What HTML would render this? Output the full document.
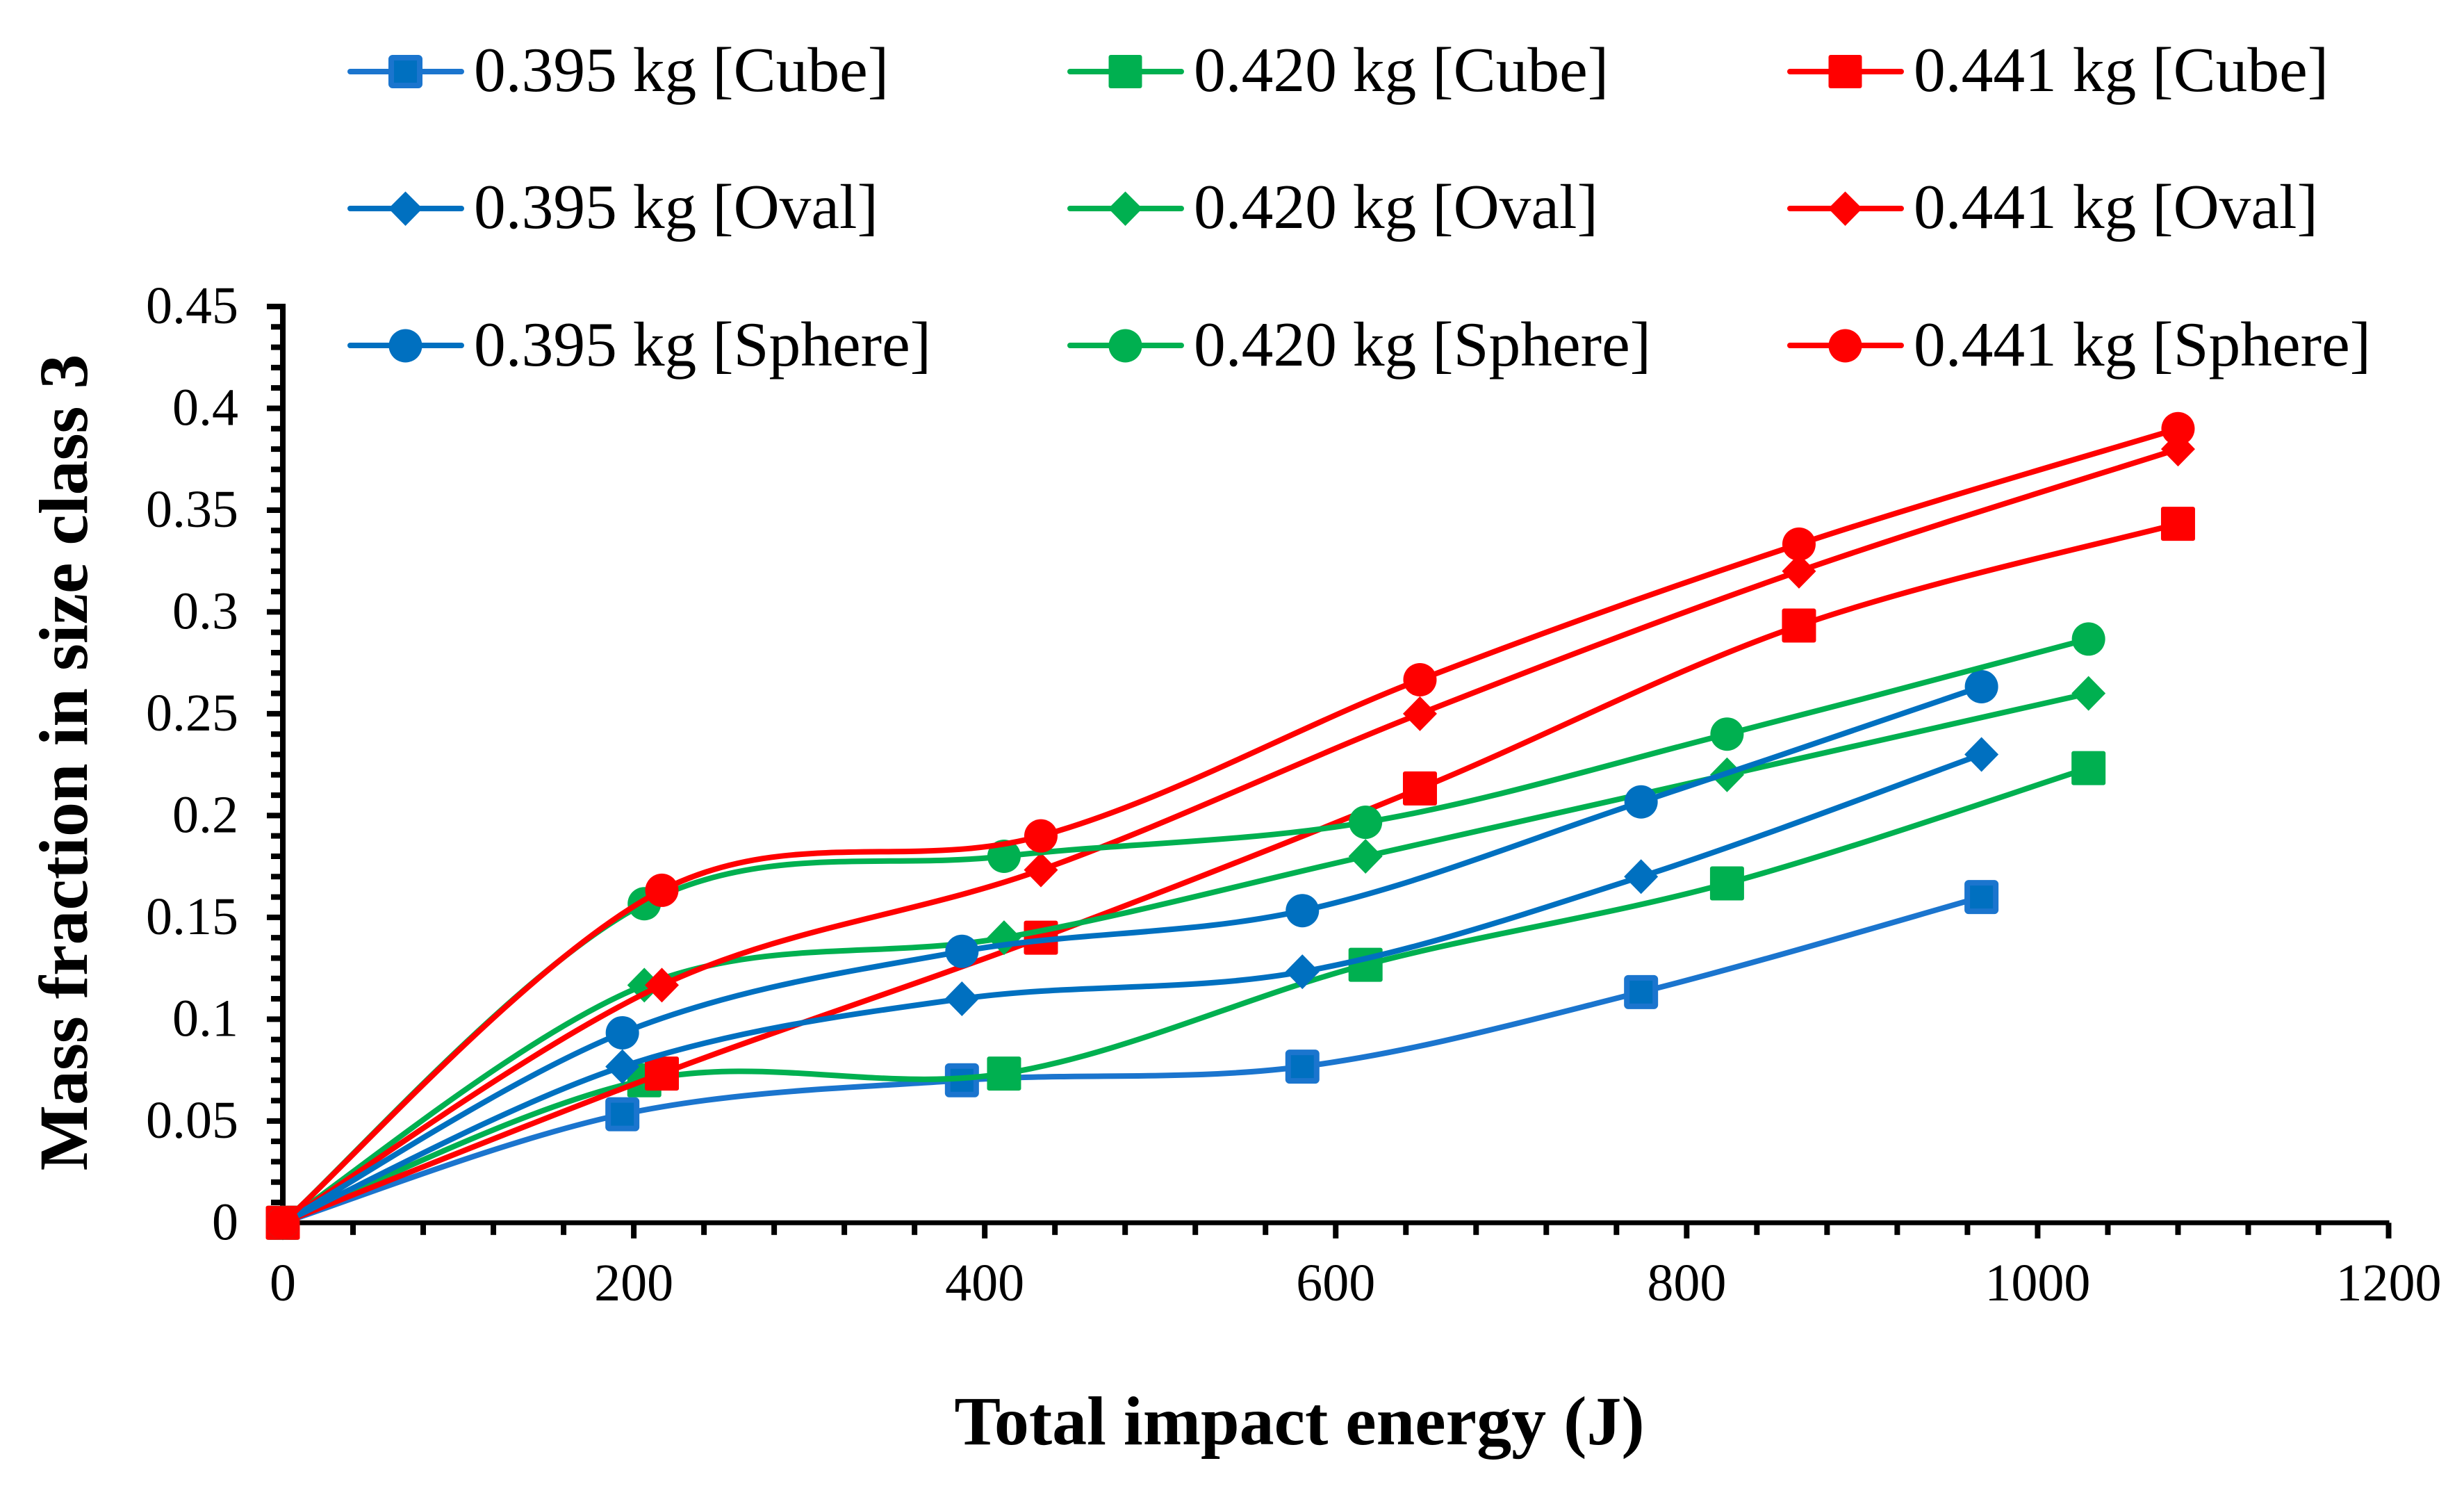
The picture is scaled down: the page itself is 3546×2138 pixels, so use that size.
<!DOCTYPE html>
<html lang="en">
<head>
<meta charset="utf-8">
<title>Mass fraction in size class 3 vs total impact energy</title>
<style>
html,body{margin:0;padding:0;background:#fff;}
svg{display:block;}
text{font-family:"Liberation Serif","Times New Roman",serif;fill:#000;}
.legend-text{font-size:91.5px;}
.tick-text{font-size:76px;}
.axis-title{font-size:100px;font-weight:bold;}
</style>
</head>
<body>
<svg id="chart" xmlns="http://www.w3.org/2000/svg" width="3546" height="2138" viewBox="0 0 3546 2138">
  <rect x="0" y="0" width="3546" height="2138" fill="#ffffff"/>
  <g id="axes"></g>
  <g id="series"></g>

  <text class="axis-title" x="1870" y="2078" text-anchor="middle">Total impact energy (J)</text>
  <text class="axis-title" x="0" y="0" text-anchor="middle" transform="translate(125 1097) rotate(-90)">Mass fraction in size class 3</text>

  <g>
    <g>
      <line x1="504" y1="103" x2="664" y2="103" stroke="#1B75CE" stroke-width="8" stroke-linecap="round"/>
      <rect x="563" y="83" width="41" height="40" rx="2" fill="#0070C0" stroke="#1B75CE" stroke-width="8"/>
      <text class="legend-text" x="682" y="131">0.395 kg [Cube]</text>
    </g>
    <g>
      <line x1="1540" y1="103" x2="1700" y2="103" stroke="#00B050" stroke-width="8" stroke-linecap="round"/>
      <rect x="1595.5" y="79" width="48" height="48" rx="3" fill="#00B050"/>
      <text class="legend-text" x="1718" y="131">0.420 kg [Cube]</text>
    </g>
    <g>
      <line x1="2576" y1="103" x2="2736" y2="103" stroke="#FF0000" stroke-width="8" stroke-linecap="round"/>
      <rect x="2631.5" y="79" width="48" height="48" rx="3" fill="#FF0000"/>
      <text class="legend-text" x="2754" y="131">0.441 kg [Cube]</text>
    </g>

    <g>
      <line x1="504" y1="300" x2="664" y2="300" stroke="#0070C0" stroke-width="8" stroke-linecap="round"/>
      <polygon points="583.5,275.5 608,300 583.5,325 559,300" fill="#0070C0"/>
      <text class="legend-text" x="682" y="328">0.395 kg [Oval]</text>
    </g>
    <g>
      <line x1="1540" y1="300" x2="1700" y2="300" stroke="#00B050" stroke-width="8" stroke-linecap="round"/>
      <polygon points="1619.5,275.5 1644,300 1619.5,325 1595,300" fill="#00B050"/>
      <text class="legend-text" x="1718" y="328">0.420 kg [Oval]</text>
    </g>
    <g>
      <line x1="2576" y1="300" x2="2736" y2="300" stroke="#FF0000" stroke-width="8" stroke-linecap="round"/>
      <polygon points="2655.5,275.5 2680,300 2655.5,325 2631,300" fill="#FF0000"/>
      <text class="legend-text" x="2754" y="328">0.441 kg [Oval]</text>
    </g>

    <g>
      <line x1="504" y1="497" x2="664" y2="497" stroke="#0070C0" stroke-width="8" stroke-linecap="round"/>
      <circle cx="583.5" cy="497.5" r="24" fill="#0070C0"/>
      <text class="legend-text" x="682" y="526">0.395 kg [Sphere]</text>
    </g>
    <g>
      <line x1="1540" y1="497" x2="1700" y2="497" stroke="#00B050" stroke-width="8" stroke-linecap="round"/>
      <circle cx="1619.5" cy="497.5" r="24" fill="#00B050"/>
      <text class="legend-text" x="1718" y="526">0.420 kg [Sphere]</text>
    </g>
    <g>
      <line x1="2576" y1="497" x2="2736" y2="497" stroke="#FF0000" stroke-width="8" stroke-linecap="round"/>
      <circle cx="2655.5" cy="497.5" r="24" fill="#FF0000"/>
      <text class="legend-text" x="2754" y="526">0.441 kg [Sphere]</text>
    </g>
  </g>
</svg>

<script>
// Impact energy (x) for each projectile mass
const energy395 = [0, 193.5, 387, 581, 774, 968];
const energy420 = [0, 206, 411, 617, 823, 1029];
const energy441 = [0, 216, 432, 648, 864, 1080];

// Mass fraction (y) for each series
const cube395 = [0, 0.0533, 0.07, 0.0767, 0.1133, 0.16];
const cube420 = [0, 0.07, 0.0733, 0.1267, 0.1667, 0.2233];
const cube441 = [0, 0.0733, 0.14, 0.2133, 0.2933, 0.3433];
const oval395 = [0, 0.0767, 0.11, 0.1233, 0.17, 0.23];
const oval420 = [0, 0.1167, 0.14, 0.18, 0.22, 0.26];
const oval441 = [0, 0.1167, 0.1733, 0.25, 0.32, 0.38];
const sphere395 = [0, 0.0933, 0.1333, 0.1533, 0.2067, 0.2633];
const sphere420 = [0, 0.1567, 0.18, 0.1967, 0.24, 0.2867];
const sphere441 = [0, 0.1633, 0.19, 0.2667, 0.3333, 0.39];

// Axis ticks
const xTickLabels = ['0', '200', '400', '600', '800', '1000', '1200'];
const yTickLabels = ['0', '0.05', '0.1', '0.15', '0.2', '0.25', '0.3', '0.35', '0.4', '0.45'];
const xMinorStep = 40;
const yMinorStep = 0.01;

const NS = 'http://www.w3.org/2000/svg';
const X0 = 407, X1 = 3437.5, XMAX = 1200;
const Y0 = 1759.3, Y1 = 441, YMAX = 0.45;
function xScale(v) { return X0 + (v / XMAX) * (X1 - X0); }
function yScale(v) { return Y0 - (v / YMAX) * (Y0 - Y1); }

function make(tag, attrs, parent) {
  const el = document.createElementNS(NS, tag);
  for (const k in attrs) el.setAttribute(k, attrs[k]);
  parent.appendChild(el);
  return el;
}

const axes = document.getElementById('axes');

// Axis lines
const yAxisLine = make('line', { x1: X0, y1: Y1 - 4, x2: X0, y2: Y0 + 3.5, stroke: '#000', 'stroke-width': 8 }, axes);


const xAxisLine = make('line', { x1: X0 - 4, y1: Y0, x2: X1 + 1, y2: Y0, stroke: '#000', 'stroke-width': 7 }, axes);



// X ticks
for (let v = xMinorStep; v <= XMAX + 0.001; v += xMinorStep) {
  const major = Math.round(v) % 200 === 0;
  const tick = make('line', { x1: xScale(v), y1: Y0, x2: xScale(v), y2: Y0 + (major ? 22.5 : 17.5), stroke: '#000', 'stroke-width': 8 }, axes);
  
  
}
xTickLabels.forEach(function (label) {
  const t = make('text', { x: xScale(Number(label)), y: 1871, 'text-anchor': 'middle', class: 'tick-text' }, axes);
  t.textContent = label;
  
  
});

// Y ticks
const yMinorCount = Math.round(YMAX / yMinorStep);
for (let i = 1; i <= yMinorCount; i++) {
  const v = i * yMinorStep;
  const major = i % 5 === 0;
  const tick = make('line', { x1: X0, y1: yScale(v), x2: major ? 384 : 390, y2: yScale(v), stroke: '#000', 'stroke-width': 8 }, axes);
  
  
}
yTickLabels.forEach(function (label) {
  const t = make('text', { x: 343, y: yScale(Number(label)) + 24, 'text-anchor': 'end', class: 'tick-text' }, axes);
  t.textContent = label;
  
  
});

// Smooth path: Catmull-Rom style Bezier, like spreadsheet smoothed lines
function smoothPath(xs, ys) {
  const p = xs.map(function (x, i) { return [xScale(x), yScale(ys[i])]; });
  let d = 'M' + p[0][0].toFixed(1) + ' ' + p[0][1].toFixed(1);
  for (let i = 0; i < p.length - 1; i++) {
    const a = p[Math.max(i - 1, 0)], b = p[i], c = p[i + 1], e = p[Math.min(i + 2, p.length - 1)];
    const c1x = b[0] + (c[0] - a[0]) / 6, c1y = b[1] + (c[1] - a[1]) / 6;
    const c2x = c[0] - (e[0] - b[0]) / 6, c2y = c[1] - (e[1] - b[1]) / 6;
    d += ' C' + c1x.toFixed(1) + ' ' + c1y.toFixed(1) + ' ' + c2x.toFixed(1) + ' ' + c2y.toFixed(1) + ' ' + c[0].toFixed(1) + ' ' + c[1].toFixed(1);
  }
  return d;
}

const seriesGroup = document.getElementById('series');

function drawSeries(name, xs, ys, color, shape, lineColor) {
  const g = make('g', {}, seriesGroup);
  
  
  const line = make('path', { d: smoothPath(xs, ys), fill: 'none', stroke: lineColor, 'stroke-width': 8, 'stroke-linejoin': 'round' }, g);
  
  
  xs.forEach(function (xv, i) {
    const cx = xScale(xv), cy = yScale(ys[i]);
    let m;
    if (shape === 'square') {
      const hasEdge = lineColor !== color;
      const half = hasEdge ? 20.5 : 24.5;
      m = make('rect', { x: cx - half, y: cy - half, width: half * 2, height: half * 2, rx: hasEdge ? 2 : 3, fill: color, stroke: hasEdge ? lineColor : 'none', 'stroke-width': hasEdge ? 8 : 0 }, g);
    } else if (shape === 'diamond') {
      m = make('polygon', { points: [cx, cy - 25, cx + 24.5, cy, cx, cy + 25, cx - 24.5, cy].join(' '), fill: color }, g);
    } else {
      m = make('circle', { cx: cx, cy: cy, r: 24, fill: color }, g);
    }
    
    
  });
}

const BLUE = '#0070C0', BLUE_EDGE = '#1B75CE', GREEN = '#00B050', RED = '#FF0000';
drawSeries('cube-395', energy395, cube395, BLUE, 'square', BLUE_EDGE);
drawSeries('cube-420', energy420, cube420, GREEN, 'square', GREEN);
drawSeries('cube-441', energy441, cube441, RED, 'square', RED);
drawSeries('oval-395', energy395, oval395, BLUE, 'diamond', BLUE);
drawSeries('oval-420', energy420, oval420, GREEN, 'diamond', GREEN);
drawSeries('oval-441', energy441, oval441, RED, 'diamond', RED);
drawSeries('sphere-395', energy395, sphere395, BLUE, 'circle', BLUE);
drawSeries('sphere-420', energy420, sphere420, GREEN, 'circle', GREEN);
drawSeries('sphere-441', energy441, sphere441, RED, 'circle', RED);
</script>
</body>
</html>
